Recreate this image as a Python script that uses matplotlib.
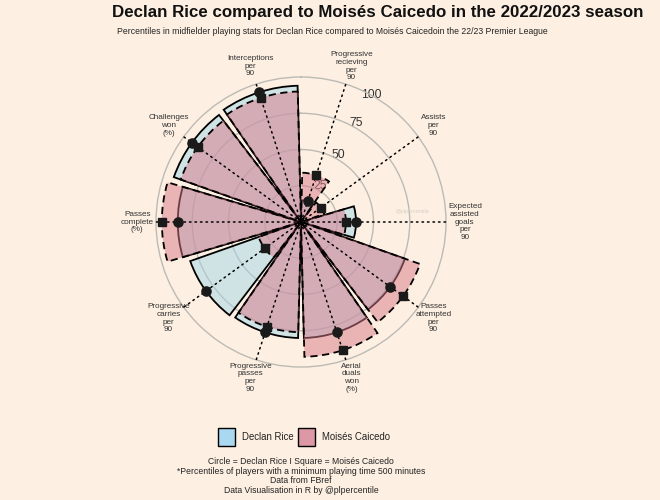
import numpy as np
import matplotlib
matplotlib.use('Agg')
import matplotlib.pyplot as plt
from matplotlib.patches import Rectangle
from matplotlib.colors import to_rgba

plt.rcParams['font.family'] = ['Liberation Sans', 'DejaVu Sans']

# ---------------- data ----------------
categories = ["Progressive\nrecieving\nper\n90", "Assists\nper\n90",
              "Expected\nassisted\ngoals\nper\n90", "Passes\nattempted\nper\n90",
              "Aerial\nduals\nwon\n(%)", "Progressive\npasses\nper\n90",
              "Progressive\ncarries\nper\n90", "Passes\ncomplete\n(%)",
              "Challenges\nwon\n(%)", "Interceptions\nper\n90"]
rice = [15, 0, 38, 76, 80, 80, 81, 85, 93, 94]
caicedo = [34, 17, 31, 87, 93, 76, 31, 96, 88, 90]
r_ticks = [25, 50, 75, 100]
players = ["Declan Rice", "Moisés Caicedo"]

title = "Declan Rice compared to Moisés Caicedo in the 2022/2023 season"
subtitle = ("Percentiles in midfielder playing stats for Declan Rice compared to "
            "Moisés Caicedoin the 22/23 Premier League")
caption = ("Circle = Declan Rice I Square = Moisés Caicedo\n"
           "*Percentiles of players with a minimum playing time 500 minutes\n"
           "Data from FBref\n"
           "Data Visualisation in R by @plpercentile")

# ---------------- style ----------------
BG = '#fdf0e2'
RICE_FILL = '#a3d5e6'
CAI_FILL = '#d97888'
RICE_KEY = '#aad8f0'
CAI_KEY = '#dc98a4'

W, H = 660, 500
fig = plt.figure(figsize=(W / 100, H / 100), dpi=100, facecolor=BG)

cx, cy, R = 301, 222, 145      # centre and radius (px) of the 100 circle
rmax = 105
Rax = R * rmax / 100
ax = fig.add_axes([(cx - Rax) / W, (H - cy - Rax) / H, 2 * Rax / W, 2 * Rax / H],
                  projection='polar')
ax.set_facecolor('none')
ax.set_theta_zero_location('N')
ax.set_theta_direction(-1)
ax.set_ylim(0, rmax)
ax.spines['polar'].set_visible(False)
ax.set_xticks([])
ax.set_yticks(r_ticks)
ax.set_yticklabels([])
ax.yaxis.grid(True, color='#bdbab5', lw=1.0)
ax.xaxis.grid(False)
ax.tick_params(length=0)

n = len(categories)
step = 2 * np.pi / n
theta = (np.arange(n) + 0.5) * step
width = 0.92 * step

# r-axis labels
for t in r_ticks:
    ax.text(np.deg2rad(29), min(t + 3, 100.3), str(t), ha='center', va='center',
            fontsize=8.8, color='#333333', zorder=1.5)

# bars
ax.bar(theta, rice, width=width, bottom=0, facecolor=to_rgba(RICE_FILL, 0.5),
       edgecolor='black', linewidth=1.3, zorder=2)
ax.bar(theta, caicedo, width=width, bottom=0, facecolor=to_rgba(CAI_FILL, 0.5),
       edgecolor='black', linewidth=1.3, linestyle=(0, (4, 2.5)), zorder=3)

# dotted spokes
for t in theta:
    ax.plot([t, t], [0, 100], color='black', lw=1.1, ls=(0, (1, 2.6)),
            dash_capstyle='round', zorder=4)

# points
rice_a = np.array(rice)
cai_a = np.array(caicedo)
m1 = rice_a > 0
m2 = cai_a > 0
ax.plot(theta[m2], cai_a[m2], 's', color='#1a1a1a', ms=6.0, zorder=5, clip_on=False)
ax.plot(theta[m1], rice_a[m1], 'o', color='#1a1a1a', ms=6.6, zorder=6, clip_on=False)

# category labels
for t, lab in zip(theta, categories):
    ax.text(t, 113, lab, ha='center', va='center', fontsize=5.9, linespacing=1.15,
            color='#333333', clip_on=False)

# watermark
fig.text(413 / W, 1 - 212 / H, '@plpercentile', fontsize=4, color='#d6cec6',
         ha='center', va='center')

# titles
fig.text(112 / W, 1 - 12 / H, title, ha='left', va='center', fontsize=12.2,
         fontweight='bold', color='#111111')
fig.text(117 / W, 1 - 31 / H, subtitle, ha='left', va='center', fontsize=6.2,
         color='#222222')

# legend
keys = [RICE_KEY, CAI_KEY]
box_x = [218, 298]
txt_x = [242, 322]
for name, col, bx, tx in zip(players, keys, box_x, txt_x):
    fig.patches.append(Rectangle((bx / W, 1 - 446 / H), 17 / W, 18 / H,
                                 transform=fig.transFigure, facecolor=col,
                                 edgecolor='black', lw=1.0))
    fig.text(tx / W, 1 - 437 / H, name, ha='left', va='center', fontsize=6.9,
             color='#222222')

# caption
fig.text(cx / W, 1 - 476 / H, caption, ha='center', va='center', fontsize=6.2,
         linespacing=1.12, color='#222222')

fig.savefig('out.png', dpi=100, facecolor=BG)
